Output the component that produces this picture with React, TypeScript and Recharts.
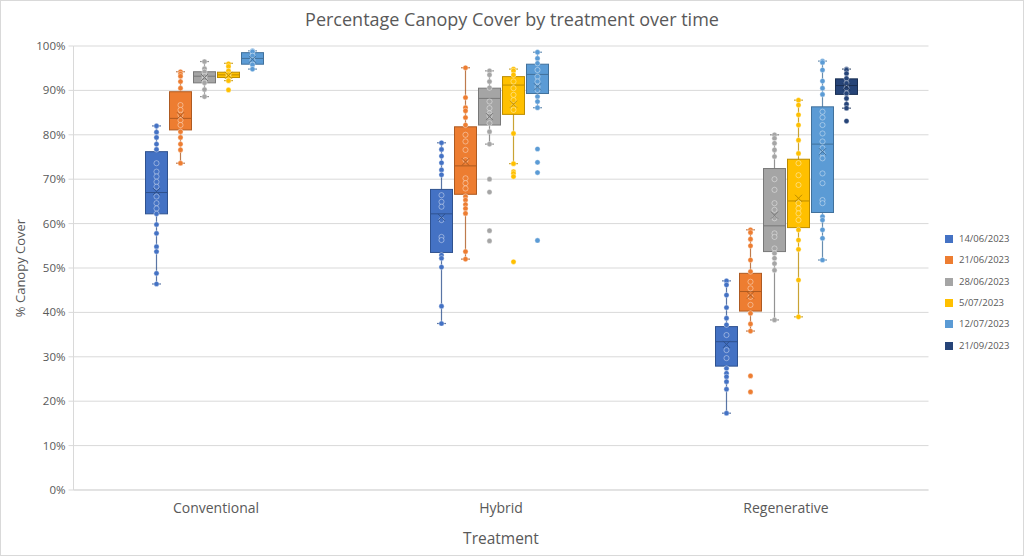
import React from 'react';
import { ComposedChart, Bar, XAxis, YAxis, CartesianGrid, Label } from 'recharts';

const FONT = '"Open Sans", "Liberation Sans", sans-serif';
const TEXT = '#595959';
const GRID = '#d9d9d9';

const categories = ['Conventional', 'Hybrid', 'Regenerative'];
const seriesNames = ['14/06/2023', '21/06/2023', '28/06/2023', '5/07/2023', '12/07/2023', '21/09/2023'];
const seriesFill = ['#4472C4', '#ED7D31', '#A5A5A5', '#FFC000', '#5B9BD5', '#264478'];
const seriesStroke = ['#2F528F', '#AE5A21', '#787878', '#BC8C00', '#41719C', '#1A2F53'];
const yTicks = [0, 10, 20, 30, 40, 50, 60, 70, 80, 90, 100];

// rows: series, columns: categories
const whiskerLow = [
  [46.4, 37.5, 17.3],
  [73.6, 52.0, 35.8],
  [88.6, 77.9, 38.3],
  [92.2, 73.5, 39.0],
  [94.8, 86.1, 51.8],
  [null, null, 86.0],
];
const quartile1 = [
  [62.2, 53.5, 27.9],
  [81.1, 66.6, 40.3],
  [91.7, 82.2, 53.7],
  [92.9, 84.6, 59.1],
  [95.9, 89.3, 62.5],
  [null, null, 89.1],
];
const medians = [
  [67.0, 62.2, 33.4],
  [83.7, 73.0, 44.7],
  [93.2, 88.2, 59.5],
  [93.5, 91.2, 65.1],
  [97.2, 93.6, 77.9],
  [null, null, 91.1],
];
const quartile3 = [
  [76.2, 67.7, 36.8],
  [89.7, 81.8, 48.8],
  [94.2, 90.5, 72.4],
  [94.1, 93.1, 74.5],
  [98.5, 95.9, 86.3],
  [null, null, 92.6],
];
const whiskerHigh = [
  [82.0, 78.2, 47.1],
  [94.2, 95.1, 58.6],
  [96.5, 94.4, 80.0],
  [96.1, 94.8, 87.8],
  [98.9, 98.6, 96.6],
  [null, null, 94.8],
];
const means = [
  [67.2, 61.4, 32.8],
  [84.3, 73.9, 43.9],
  [92.9, 84.1, 61.9],
  [93.4, 86.9, 65.7],
  [97.0, 90.8, 76.2],
  [null, null, 90.8],
];

const pts14Jun = [
  [82.0, 80.6, 79.4, 77.9, 76.7, 73.6, 71.7, 70.6, 69.4, 68.3, 66.1, 64.6, 63.4, 62.2, 59.8, 57.8, 54.8, 53.7, 48.8, 46.4],
  [78.2, 76.7, 75.2, 73.7, 72.1, 71.0, 66.4, 64.9, 63.8, 60.8, 57.0, 56.3, 52.9, 52.2, 50.2, 41.4, 37.5],
  [47.1, 46.2, 43.9, 41.1, 38.7, 37.2, 34.9, 31.5, 29.7, 27.4, 26.3, 25.5, 24.4, 22.7, 17.3],
];
const pts21Jun = [
  [94.2, 93.7, 93.2, 92.0, 90.5, 86.7, 85.6, 84.5, 83.3, 82.2, 80.7, 79.4, 77.9, 76.6, 73.6],
  [95.1, 88.4, 86.1, 85.4, 83.9, 82.2, 80.0, 78.5, 76.6, 74.3, 70.2, 69.1, 67.9, 66.1, 65.3, 64.3, 63.4, 62.3, 53.7, 52.0],
  [58.6, 58.0, 56.5, 55.0, 51.8, 49.2, 46.9, 45.4, 43.5, 41.7, 39.8, 37.4, 35.8, 25.7, 22.1],
];
const pts28Jun = [
  [96.5, 94.9, 94.2, 93.2, 92.5, 91.7, 90.2, 88.6],
  [94.4, 93.5, 92.0, 90.6, 87.5, 86.0, 84.8, 84.3, 82.6, 80.7, 77.9, 70.0, 67.1, 58.4, 56.1],
  [80.0, 79.2, 78.1, 76.6, 75.1, 70.0, 67.6, 64.6, 63.1, 61.2, 57.8, 57.0, 54.4, 53.3, 52.2, 51.0, 49.5, 38.3],
];
const pts5Jul = [
  [96.0, 95.4, 94.4, 93.6, 93.0, 92.2, 90.1],
  [94.8, 94.4, 93.5, 92.0, 90.5, 89.0, 87.8, 86.3, 85.6, 80.3, 73.5, 71.7, 71.3, 70.6, 51.4],
  [87.8, 86.7, 84.5, 82.2, 78.8, 75.8, 73.6, 70.9, 68.7, 64.6, 63.4, 62.3, 60.8, 58.6, 56.3, 54.2, 47.3, 39.0],
];
const pts12Jul = [
  [98.9, 98.7, 97.8, 96.8, 95.8, 94.8],
  [98.6, 97.2, 96.1, 94.6, 93.1, 92.0, 90.8, 90.1, 88.6, 87.5, 86.1, 76.8, 73.8, 71.5, 56.2],
  [96.6, 96.3, 94.6, 92.1, 90.5, 89.1, 85.2, 83.9, 82.2, 80.3, 78.5, 77.0, 75.8, 74.7, 71.3, 69.1, 65.3, 64.6, 61.6, 60.8, 58.6, 56.7, 51.8],
];
const pts21Sep = [
  [],
  [],
  [94.8, 94.6, 93.8, 92.7, 91.6, 90.5, 89.3, 88.2, 86.9, 86.0, 83.1],
];
const pointsBySeries = [pts14Jun, pts21Jun, pts28Jun, pts5Jul, pts12Jul, pts21Sep];

const rows = categories.map((name, ci) => {
  const row: any = { name, ci };
  seriesNames.forEach((_, si) => {
    const lo = whiskerLow[si][ci];
    const hi = whiskerHigh[si][ci];
    row[`r${si}`] = lo == null || hi == null ? null : [lo, hi];
  });
  return row;
});

function BoxShape(props: any) {
  const { x, y, width, height, payload, si } = props;
  const ci = payload ? payload.ci : null;
  if (ci == null) return null;
  const lo = whiskerLow[si][ci];
  const hi = whiskerHigh[si][ci];
  if (lo == null || hi == null) return null;
  const top = Math.min(y, y + height);
  const bottom = Math.max(y, y + height);
  const py = (v: number) => bottom - ((v - lo) / (hi - lo)) * (bottom - top);
  const cx = x + width / 2;
  const fill = seriesFill[si];
  const stroke = seriesStroke[si];
  const q1 = py(quartile1[si][ci] as number);
  const q3 = py(quartile3[si][ci] as number);
  const md = py(medians[si][ci] as number);
  const mn = py(means[si][ci] as number);
  const cap = 4.5;
  const xs = 3.5;
  const pts = pointsBySeries[si][ci] || [];
  return (
    <g>
      <line x1={cx} x2={cx} y1={top} y2={bottom} stroke={stroke} strokeOpacity={0.8} strokeWidth={1.2} />
      <line x1={cx - cap} x2={cx + cap} y1={top} y2={top} stroke={stroke} strokeOpacity={0.8} strokeWidth={1.2} />
      <line x1={cx - cap} x2={cx + cap} y1={bottom} y2={bottom} stroke={stroke} strokeOpacity={0.8} strokeWidth={1.2} />
      <rect x={x} y={q3} width={width} height={Math.max(0.5, q1 - q3)} fill={fill} stroke={stroke} strokeWidth={1} />
      <line x1={x} x2={x + width} y1={md} y2={md} stroke={stroke} strokeWidth={1} />
      {pts.map((v: number, k: number) => (
        <circle key={k} cx={cx} cy={py(v)} r={2.6} fill={fill} stroke="#ffffff" strokeOpacity={0.5} strokeWidth={0.8} />
      ))}
      <path
        d={`M${cx - xs},${mn - xs}L${cx + xs},${mn + xs}M${cx + xs},${mn - xs}L${cx - xs},${mn + xs}`}
        stroke={stroke}
        strokeWidth={1}
        fill="none"
      />
    </g>
  );
}

const YLabel = (props: any) => {
  const vb = props.viewBox || { x: 0, y: 46, width: 73.5, height: 444 };
  const cy = vb.y + vb.height / 2;
  const cx = 20;
  return (
    <text
      x={cx}
      y={cy}
      transform={`rotate(-90, ${cx}, ${cy})`}
      textAnchor="middle"
      dominantBaseline="central"
      fill={TEXT}
      fontSize={13}
      fontFamily={FONT}
    >
      % Canopy Cover
    </text>
  );
};

export default function App() {
  return (
    <div style={{ position: 'fixed', left: 0, top: 0, width: 1024, height: 556, background: '#fff', fontFamily: FONT }}>
      <div
        style={{
          position: 'absolute',
          left: 0,
          top: 6,
          width: 1024,
          textAlign: 'center',
          fontSize: 18,
          lineHeight: '26px',
          color: TEXT,
        }}
      >
        Percentage Canopy Cover by treatment over time
      </div>
      <div style={{ position: 'absolute', left: 0, top: 0 }}>
        <ComposedChart
          width={1024}
          height={556}
          data={rows}
          margin={{ top: 46, right: 95.5, bottom: 0, left: 0 }}
          barSize={22}
          barGap={2}
        >
          <CartesianGrid horizontal vertical={false} stroke={GRID} />
          <XAxis
            dataKey="name"
            type="category"
            height={66}
            axisLine={{ stroke: GRID }}
            tickLine={false}
            tickMargin={7}
            tick={{ fill: TEXT, fontSize: 14, fontFamily: FONT }}
          >
            <Label value="Treatment" position="insideBottom" offset={12.5} style={{ fill: TEXT, fontSize: 15.5, fontFamily: FONT }} />
          </XAxis>
          <YAxis
            type="number"
            domain={[0, 100]}
            ticks={yTicks}
            interval={0}
            tickFormatter={(v: number) => `${v}%`}
            width={73.5}
            axisLine={{ stroke: GRID }}
            tickLine={{ stroke: GRID }}
            tickSize={5}
            tickMargin={3}
            tick={{ fill: TEXT, fontSize: 11.5, fontFamily: FONT }}
          >
            <Label content={YLabel} />
          </YAxis>
          {seriesNames.map((nm, si) => (
            <Bar
              key={nm}
              name={nm}
              dataKey={`r${si}`}
              fill={seriesFill[si]}
              barSize={22}
              isAnimationActive={false}
              shape={(p: any) => <BoxShape {...p} si={si} />}
            />
          ))}
        </ComposedChart>
      </div>
      {seriesNames.map((nm, i) => (
        <div
          key={nm}
          style={{
            position: 'absolute',
            left: 945,
            top: 239 + i * 21.3 - 6,
            height: 12,
            display: 'flex',
            alignItems: 'center',
            fontSize: 9.5,
            lineHeight: '12px',
            color: TEXT,
            whiteSpace: 'nowrap',
          }}
        >
          <span style={{ display: 'inline-block', width: 8, height: 8, background: seriesFill[i], marginRight: 6 }} />
          {nm}
        </div>
      ))}
      <div
        style={{
          position: 'absolute',
          left: 0,
          top: 0,
          width: 1024,
          height: 556,
          boxSizing: 'border-box',
          border: '1px solid #d9d9d9',
          pointerEvents: 'none',
        }}
      />
    </div>
  );
}
